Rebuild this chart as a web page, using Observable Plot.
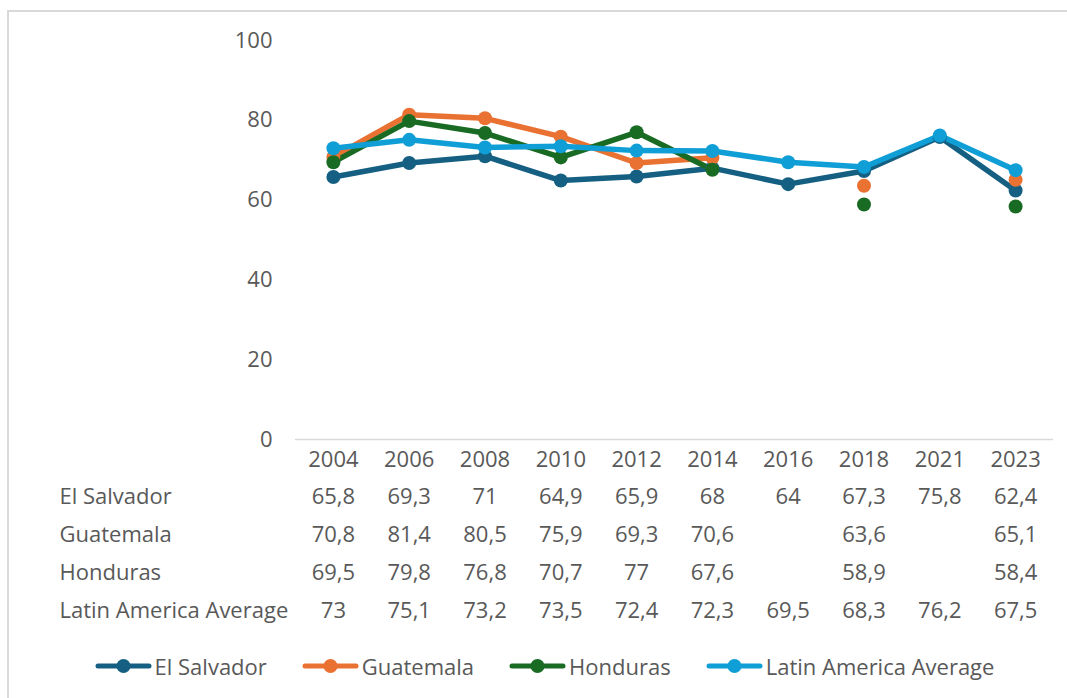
<!DOCTYPE html>
<html>
<head>
<meta charset="utf-8">
<script src="https://cdn.jsdelivr.net/npm/d3@7"></script>
<script src="https://cdn.jsdelivr.net/npm/@observablehq/plot@0.6"></script>
<style>
  html, body { margin: 0; padding: 0; background: #fff; }
  #wrap { position: relative; width: 1067px; height: 698px; overflow: hidden; font-family: "Open Sans", sans-serif; }
  #frame { position: absolute; left: 7px; top: 10px; width: 1080px; height: 720px; border: 2px solid #d9d9d9; box-sizing: border-box; }
  #chart, #table { position: absolute; left: 0; }
  #chart { top: 0; }
  #table { top: 470px; }
  #legend { position: absolute; left: 0; width: 1067px; top: 650px; height: 32px; display: flex; justify-content: center; align-items: center; gap: 35px; color: #595959; font-size: 22px; padding-left: 22px; box-sizing: border-box; }
  .item { display: flex; align-items: center; gap: 3px; }
</style>
</head>
<body>
<div id="wrap">
  <div id="frame"></div>
  <div id="chart"></div>
  <div id="table"></div>
  <div id="legend"></div>
</div>
<script>
const years = ["2004", "2006", "2008", "2010", "2012", "2014", "2016", "2018", "2021", "2023"];
const seriesNames = ["El Salvador", "Guatemala", "Honduras", "Latin America Average"];
const elSalvador = [65.8, 69.3, 71, 64.9, 65.9, 68, 64, 67.3, 75.8, 62.4];
const guatemala = [70.8, 81.4, 80.5, 75.9, 69.3, 70.6, null, 63.6, null, 65.1];
const honduras = [69.5, 79.8, 76.8, 70.7, 77, 67.6, null, 58.9, null, 58.4];
const latinAmerica = [73, 75.1, 73.2, 73.5, 72.4, 72.3, 69.5, 68.3, 76.2, 67.5];
const yTicks = [0, 20, 40, 60, 80, 100];
const colors = ["#156082", "#E97132", "#196B24", "#0F9ED5"];

const seriesValues = [elSalvador, guatemala, honduras, latinAmerica];
const data = [];
seriesNames.forEach((s, k) => years.forEach((yr, i) => data.push({series: s, year: yr, value: seriesValues[k][i]})));

const W = 1067, ML = 295, MR = 14;
const font = "'Open Sans', sans-serif";
const xScale = {type: "point", domain: years, padding: 0.5, round: false};
const colorScale = {domain: seriesNames, range: colors};

const chart = Plot.plot({
  width: W, height: 470,
  marginLeft: ML, marginRight: MR, marginTop: 40, marginBottom: 31,
  style: {fontFamily: font, fontSize: "22px", color: "#595959", background: "transparent", overflow: "visible"},
  x: {...xScale, label: null, axis: null},
  y: {domain: [0, 100], ticks: yTicks, label: null, tickSize: 0, tickPadding: 23},
  color: colorScale,
  marks: [
    Plot.ruleY([0], {stroke: "#d9d9d9", strokeWidth: 1.5}),
    Plot.axisX({tickSize: 0, tickPadding: 12, label: null}),
    Plot.line(data, {x: "year", y: "value", z: "series", stroke: "series", strokeWidth: 5.5, strokeLinejoin: "round", strokeLinecap: "round"}),
    Plot.dot(data.filter(d => d.value != null), {x: "year", y: "value", fill: "series", r: 7, stroke: "none"})
  ]
});
document.getElementById("chart").appendChild(chart);

const cells = data.filter(d => d.value != null).map(d => ({...d, label: String(d.value).replace(".", ",")}));
const table = Plot.plot({
  width: W, height: 170,
  marginLeft: ML, marginRight: MR, marginTop: 0, marginBottom: 0,
  style: {fontFamily: font, fontSize: "22px", color: "#595959", background: "transparent", overflow: "visible"},
  x: {...xScale, axis: null},
  y: {type: "point", domain: seriesNames, range: [25, 140], padding: 0, axis: null},
  marks: [
    Plot.text(cells, {x: "year", y: "series", text: "label", fill: "#595959"}),
    Plot.text(seriesNames, {y: d => d, text: d => d, frameAnchor: "left", textAnchor: "start", dx: 59 - ML, fill: "#595959"})
  ]
});
document.getElementById("table").appendChild(table);

const legend = document.getElementById("legend");
seriesNames.forEach((s, k) => {
  const item = document.createElement("div");
  item.className = "item";
  item.innerHTML = `<svg width="57" height="16"><line x1="3" y1="8" x2="54" y2="8" stroke="${colors[k]}" stroke-width="5" stroke-linecap="round"/><circle cx="28.5" cy="8" r="7" fill="${colors[k]}"/></svg><span>${s}</span>`;
  legend.appendChild(item);
});
</script>
</body>
</html>
